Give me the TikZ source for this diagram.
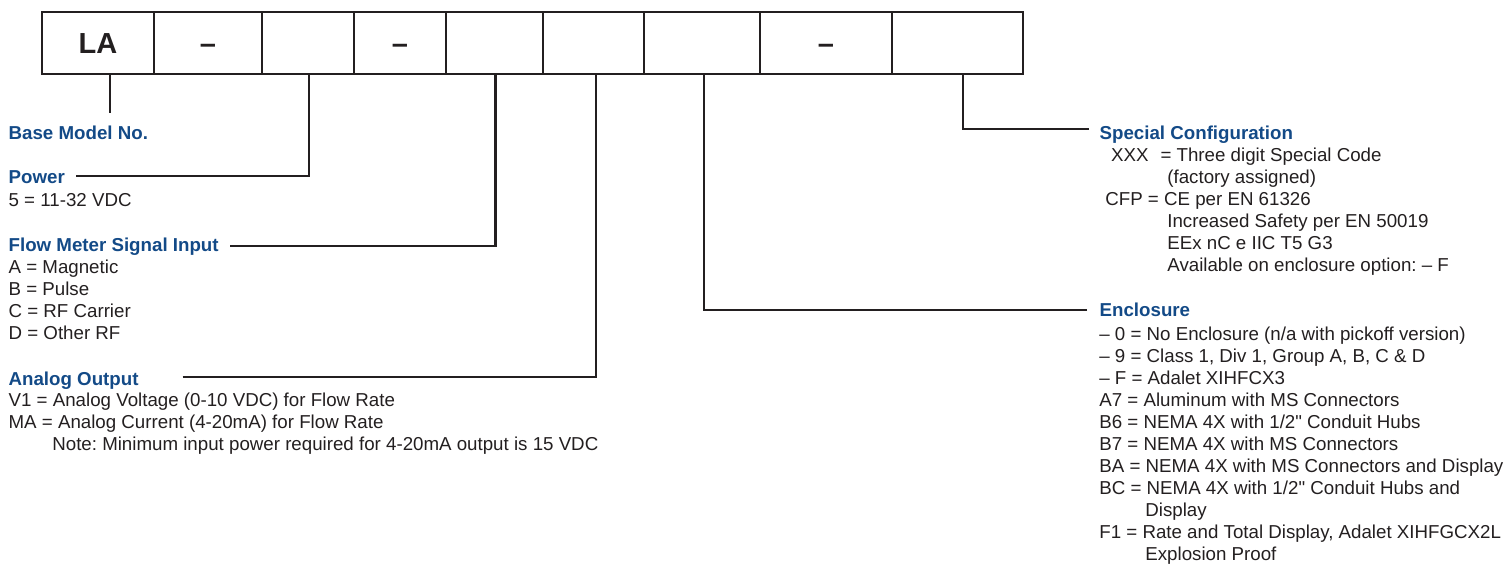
\documentclass[tikz,border=0pt]{standalone}
\usepackage{fontspec}
\setmainfont{Liberation Sans}
\newfontfamily\plainsans{Liberation Sans}
\usetikzlibrary{positioning, calc}
\definecolor{codeblue}{HTML}{134A87}
\definecolor{inkgray}{HTML}{231F20}
\frenchspacing

\tikzset{
  cell/.style={draw=inkgray, line width=1.3pt, minimum height=1.234cm, inner sep=0pt,
               text height=0.42cm, text depth=0pt,
               text=inkgray, font=\fontsize{16.5}{18}\selectfont\bfseries},
  head/.style={anchor=base west, inner sep=0pt, text=codeblue,
               font=\fontsize{10.65}{12.5}\selectfont\bfseries},
  item/.style={anchor=base west, inner sep=0pt, text=inkgray,
               font=\fontsize{10.65}{12.5}\selectfont},
  wire/.style={draw=inkgray, line width=1.2pt}
}
\newcommand{\inchmark}{{\plainsans\symbol{"22}}}

\begin{document}
\begin{tikzpicture}[x=0.02cm, y=-0.02cm]
  \useasboundingbox (0,0) rectangle (1506,565);

  % code boxes
  \node[cell, minimum width=2.252cm] (base)      at (98,43.15)     {LA};
  \node[cell, minimum width=2.148cm] (dashA)     at (208,43.15)    {--};
  \node[cell, minimum width=1.846cm] (power)     at (307.85,43.15) {};
  \node[cell, minimum width=1.840cm] (dashB)     at (400,43.15)    {--};
  \node[cell, minimum width=1.940cm] (signal)    at (494.5,43.15)  {};
  \node[cell, minimum width=2.020cm] (output)    at (593.5,43.15)  {};
  \node[cell, minimum width=2.320cm] (enclosure) at (702,43.15)    {};
  \node[cell, minimum width=2.634cm] (dashC)     at (825.85,43.15) {--};
  \node[cell, minimum width=2.632cm] (special)   at (957.5,43.15)  {};

  % left column
  \node[head] (basehd) at (8.3,139) {Base Model No.};

  \node[head] (powerhd) at (8.3,183) {Power};
  \node[item] (power1)  at (8.3,206) {5 = 11-32 VDC};

  \node[head] (signalhd) at (8.3,251) {Flow Meter Signal Input};
  \node[item] (signal1)  at (8.3,273) {A = Magnetic};
  \node[item] (signal2)  at (8.3,295) {B = Pulse};
  \node[item] (signal3)  at (8.3,317) {C = RF Carrier};
  \node[item] (signal4)  at (8.3,339) {D = Other RF};

  \node[head] (outputhd) at (8.3,385)   {Analog Output};
  \node[item] (output1)  at (8.3,406.7) {V1 = Analog Voltage (0-10 VDC) for Flow Rate};
  \node[item] (output2)  at (8.3,428.5) {MA = Analog Current (4-20mA) for Flow Rate};
  \node[item] (outnote)  at (52,450.3)  {Note: Minimum input power required for 4-20mA output is 15 VDC};

  % right column
  \node[head] (specialhd) at (1099.3,139.3) {Special Configuration};
  \node[item] (special1)  at (1110.7,161)   {XXX\hspace{0.24cm}= Three digit Special Code};
  \node[item] (special2)  at (1167,183)     {(factory assigned)};
  \node[item] (special3)  at (1105,205)     {CFP = CE per EN 61326};
  \node[item] (special4)  at (1167,227)     {Increased Safety per EN 50019};
  \node[item] (special5)  at (1167,249)     {EEx nC e IIC T5 G3};
  \node[item] (special6)  at (1167,271)     {Available on enclosure option: -- F};

  \node[head] (enclosurehd) at (1099.3,316.7) {Enclosure};
  \node[item] (encl1)  at (1099,340.7) {-- 0 = No Enclosure (n/a with pickoff version)};
  \node[item] (encl2)  at (1099,362.7) {-- 9 = Class 1, Div 1, Group A, B, C \& D};
  \node[item] (encl3)  at (1099,384.7) {-- F = Adalet XIHFCX3};
  \node[item] (encl4)  at (1099,406.7) {A7 = Aluminum with MS Connectors};
  \node[item] (encl5)  at (1099,428.7) {B6 = NEMA 4X with 1/2\inchmark{} Conduit Hubs};
  \node[item] (encl6)  at (1099,450.7) {B7 = NEMA 4X with MS Connectors};
  \node[item] (encl7)  at (1099,472.7) {BA = NEMA 4X with MS Connectors and Display};
  \node[item] (encl8)  at (1099,494.7) {BC = NEMA 4X with 1/2\inchmark{} Conduit Hubs and};
  \node[item] (encl9)  at (1145,516.7) {Display};
  \node[item] (encl10) at (1099,538.7) {F1 = Rate and Total Display, Adalet XIHFGCX2L};
  \node[item] (encl11) at (1145,560.7) {Explosion Proof};

  % leader lines
  \coordinate (base-end)      at (110,113);
  \coordinate (power-a)       at (76,175.7);
  \coordinate (signal-a)      at (230,245.7);
  \coordinate (output-a)      at (182.7,376.7);
  \coordinate (enclosure-a)   at (1087,310);
  \coordinate (special-a)     at (1089,129);

  \draw[wire] (base.south -| base-end) -- (base-end);
  \draw[wire] (power-a) -| ([xshift=0.02cm]power.south);
  \draw[wire] (signal-a) -| ([xshift=0.02cm]signal.south);
  \draw[wire] (output-a) -| ([xshift=0.044cm]output.south);
  \draw[wire] (enclosure-a) -| ([xshift=0.04cm]enclosure.south);
  \draw[wire] (special-a) -| ([xshift=0.11cm]special.south);
\end{tikzpicture}
\end{document}
